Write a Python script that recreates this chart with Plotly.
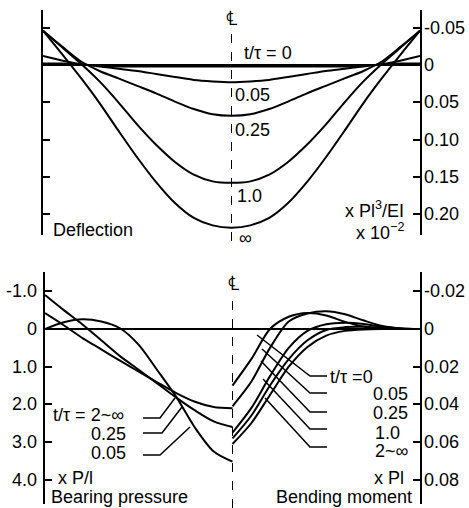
import plotly.graph_objects as go

W, H = 469, 508

# beam position, 0 = left end, 0.5 = centre line, 1 = right end
beam_x = [0, 0.05, 0.1, 0.15, 0.2, 0.25, 0.3, 0.35, 0.4, 0.45, 0.5,
          0.55, 0.6, 0.65, 0.7, 0.75, 0.8, 0.85, 0.9, 0.95, 1.0]

# deflection, x Pl^3/EI x 10^-2 (positive downwards)
defl_t0 = [-0.012, -0.006, -0.001, 0.001, 0.002, 0.002, 0.002, 0.002, 0.002, 0.002, 0.002,
           0.002, 0.002, 0.002, 0.002, 0.002, 0.002, 0.001, -0.001, -0.006, -0.012]
defl_t005 = [-0.002, -0.002, -0.001, 0.002, 0.005, 0.008, 0.012, 0.016, 0.020, 0.022, 0.023,
             0.022, 0.020, 0.016, 0.012, 0.008, 0.005, 0.002, -0.001, -0.002, -0.002]
defl_t025 = [-0.046, -0.025, -0.005, 0.008, 0.018, 0.028, 0.038, 0.049, 0.059, 0.066, 0.068,
             0.066, 0.059, 0.049, 0.038, 0.028, 0.018, 0.008, -0.005, -0.025, -0.046]
defl_t1 = [-0.046, -0.024, -0.002, 0.022, 0.050, 0.080, 0.107, 0.130, 0.147, 0.156, 0.158,
           0.156, 0.147, 0.130, 0.107, 0.080, 0.050, 0.022, -0.002, -0.024, -0.046]
defl_tinf = [-0.046, -0.015, 0.017, 0.051, 0.088, 0.124, 0.157, 0.185, 0.205, 0.215, 0.218,
             0.215, 0.205, 0.185, 0.157, 0.124, 0.088, 0.051, 0.017, -0.015, -0.046]

# bearing pressure, x P/l, left half of the beam
half_left = [0, 0.05, 0.1, 0.15, 0.2, 0.25, 0.3, 0.35, 0.4, 0.45, 0.5]
pres_t005 = [0, -0.18, -0.26, -0.20, -0.02, 0.42, 1.10, 1.80, 2.62, 3.25, 3.52]
pres_t025 = [-0.90, -0.50, -0.12, 0.30, 0.72, 1.08, 1.45, 1.82, 2.16, 2.45, 2.60]
pres_tinf = [-0.42, -0.10, 0.24, 0.54, 0.84, 1.13, 1.42, 1.70, 1.93, 2.07, 2.10]

# bending moment, x Pl, right half of the beam
half_right = [0.5, 0.55, 0.6, 0.65, 0.7, 0.75, 0.8, 0.85, 0.9, 0.95, 1.0]
mom_t0 = [0.030, 0.016, 0.0, -0.0065, -0.0085, -0.0072, -0.0038, -0.0013, -0.0002, 0, 0]
mom_t005 = [0.041, 0.028, 0.010, -0.004, -0.0082, -0.0094, -0.0078, -0.0045, -0.0016, -0.0003, 0]
mom_t025 = [0.055, 0.042, 0.025, 0.010, 0.001, -0.0025, -0.0033, -0.0027, -0.0012, -0.0003, 0]
mom_t1 = [0.058, 0.046, 0.030, 0.016, 0.006, 0.0005, -0.001, -0.0012, -0.0006, -0.0001, 0]
mom_tinf = [0.061, 0.050, 0.035, 0.020, 0.0095, 0.0035, 0.001, 0.0002, 0, 0, 0]

defl_ticks = [-0.05, 0, 0.05, 0.10, 0.15, 0.20]
defl_labels = ["-0.05", "0", "0.05", "0.10", "0.15", "0.20"]
pres_ticks = [-1, 0, 1, 2, 3, 4]
pres_labels = ["-1.0", "0", "1.0", "2.0", "3.0", "4.0"]
mom_ticks = [-0.02, 0, 0.02, 0.04, 0.06, 0.08]
mom_labels = ["-0.02", "0", "0.02", "0.04", "0.06", "0.08"]

FONT = "Liberation Sans, Arial, sans-serif"
LINE = dict(color="black", width=2, shape="spline", smoothing=0.8)


def px(x):
    return x / W


def py(y):
    return 1 - y / H


fig = go.Figure()

for ys in [defl_t0, defl_t005, defl_t025, defl_t1, defl_tinf]:
    fig.add_trace(go.Scatter(x=beam_x, y=ys, mode="lines", line=LINE,
                             xaxis="x", yaxis="y", showlegend=False))

for ys in [pres_t005, pres_t025, pres_tinf]:
    fig.add_trace(go.Scatter(x=half_left, y=ys, mode="lines", line=LINE,
                             xaxis="x2", yaxis="y2", showlegend=False))

for ys in [mom_t0, mom_t005, mom_t025, mom_t1, mom_tinf]:
    fig.add_trace(go.Scatter(x=half_right, y=ys, mode="lines", line=LINE,
                             xaxis="x2", yaxis="y4", showlegend=False))

axis_common = dict(showline=True, linecolor="black", linewidth=1.5,
                   ticks="inside", ticklen=7, tickwidth=1.5, tickcolor="black",
                   showgrid=False, showticklabels=False, automargin=False)

# pixel positions of the plot boxes
top_y0, top_y1 = 10, 235
bot_y0, bot_y1 = 272, 504
zero_top, step_top = 65, 37.3 / 0.05
zero_bot, step_bot = 329, 37.7

fig.update_layout(
    width=W, height=H,
    margin=dict(l=0, r=0, t=0, b=0, autoexpand=False),
    paper_bgcolor="white", plot_bgcolor="white",
    xaxis=dict(domain=[px(43), px(420)], range=[0, 1], visible=False, anchor="y"),
    xaxis2=dict(domain=[px(45), px(420)], range=[0, 1], visible=False, anchor="y2"),
    yaxis=dict(domain=[py(top_y1), py(top_y0)],
               range=[(top_y1 - zero_top) / step_top, (top_y0 - zero_top) / step_top],
               side="right", mirror="ticks", anchor="x", tickvals=defl_ticks,
               zeroline=True, zerolinecolor="black", zerolinewidth=1.5, **axis_common),
    yaxis2=dict(domain=[py(bot_y1), py(bot_y0)],
                range=[(bot_y1 - zero_bot) / step_bot, (bot_y0 - zero_bot) / step_bot],
                side="left", anchor="x2", tickvals=pres_ticks,
                zeroline=True, zerolinecolor="black", zerolinewidth=1.5, **axis_common),
    yaxis4=dict(overlaying="y2", side="right", anchor="x2",
                range=[(bot_y1 - zero_bot) / step_bot * 0.02, (bot_y0 - zero_bot) / step_bot * 0.02],
                tickvals=mom_ticks, zeroline=False, **axis_common),
)

# tick labels, placed on the axis values
tick_font = dict(family=FONT, size=18, color="black")
for v, t in zip(defl_ticks, defl_labels):
    fig.add_annotation(text=t, x=px(422), y=v, xref="paper", yref="y",
                       xanchor="left", yanchor="middle", showarrow=False, font=tick_font)
for v, t in zip(pres_ticks, pres_labels):
    fig.add_annotation(text=t, x=px(39), y=v, xref="paper", yref="y2",
                       xanchor="right", yanchor="middle", showarrow=False, font=tick_font)
for v, t in zip(mom_ticks, mom_labels):
    fig.add_annotation(text=t, x=px(422), y=v, xref="paper", yref="y4",
                       xanchor="left", yanchor="middle", showarrow=False, font=tick_font)

# dashed centre lines
fig.add_shape(type="line", xref="x", yref="paper", x0=0.5, x1=0.5, y0=py(241), y1=py(28),
              line=dict(color="black", width=1, dash="dash"))
fig.add_shape(type="line", xref="x2", yref="paper", x0=0.5, x1=0.5, y0=py(508), y1=py(292),
              line=dict(color="black", width=1, dash="dash"))

# leader lines (pixel positions)
leaders = [
    [(143, 418), (160, 418), (175, 398)],
    [(143, 433), (162, 433), (182, 407)],
    [(143, 455), (160, 455), (190, 427)],
    [(257, 335), (310, 376), (327, 376)],
    [(262, 349), (310, 393), (327, 393)],
    [(261, 361), (310, 412), (327, 412)],
    [(263, 379), (310, 429), (327, 429)],
    [(265, 398), (310, 447), (327, 447)],
]
for pts in leaders:
    path = "M " + " L ".join(f"{px(a)},{py(b)}" for a, b in pts)
    fig.add_shape(type="path", xref="paper", yref="paper", path=path,
                  line=dict(color="black", width=1.5))

texts = [
    ("℄", 231, 18, "center", 20),
    ("t/τ = 0", 242, 53, "left", 18),
    ("0.05", 233, 95, "left", 18),
    ("0.25", 233, 130, "left", 18),
    ("1.0", 235, 196, "left", 18),
    ("∞", 237, 238, "left", 18),
    ("Deflection", 51, 230, "left", 18),
    ("x Pl<sup>3</sup>/EI", 406, 210, "right", 18),
    ("x 10<sup>−2</sup>", 406, 231, "right", 18),
    ("℄", 233, 283, "center", 20),
    ("t/τ = 2~∞", 51, 415, "left", 18),
    ("0.25", 89, 434, "left", 18),
    ("0.05", 89, 453, "left", 18),
    ("x P/l", 56, 478, "left", 18),
    ("Bearing pressure", 49, 497, "left", 18),
    ("t/τ =0", 328, 377, "left", 18),
    ("0.05", 410, 394, "right", 18),
    ("0.25", 410, 413, "right", 18),
    ("1.0", 402, 433, "right", 18),
    ("2~∞", 411, 451, "right", 18),
    ("x Pl", 406, 478, "right", 18),
    ("Bending moment", 414, 497, "right", 18),
]
for txt, x, y, anchor, size in texts:
    fig.add_annotation(text=txt, x=px(x), y=py(y), xref="paper", yref="paper",
                       xanchor=anchor, yanchor="middle", showarrow=False,
                       font=dict(family=FONT, size=size, color="black"))

# the page body has a default margin; remove it so the figure fills the window
fig.write_html("out.html", config={"displayModeBar": False},
               post_script="document.body.style.margin='0px';")
